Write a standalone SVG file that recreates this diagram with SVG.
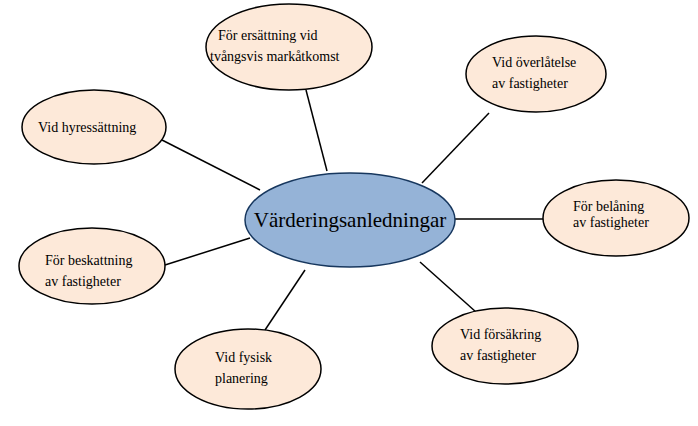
<svg xmlns="http://www.w3.org/2000/svg" width="698" height="426" viewBox="0 0 698 426">
<style>
.n{fill:#fde9d9;stroke:#000;stroke-width:1.5}
.c{fill:#95b3d7;stroke:#17375e;stroke-width:1.5}
text{font-family:"Liberation Serif",serif;font-size:14px;fill:#000}
.t{font-size:21px}
#edges line{stroke:#000;stroke-width:1.5}
</style>
<rect width="698" height="426" fill="#fff"/>
<g id="edges">
<line x1="327" y1="171" x2="306" y2="90"/>
<line x1="422" y1="183" x2="489" y2="113"/>
<line x1="455" y1="219" x2="543" y2="219"/>
<line x1="420" y1="262" x2="476" y2="312"/>
<line x1="305" y1="270" x2="265" y2="330"/>
<line x1="250" y1="238" x2="165" y2="265"/>
<line x1="260" y1="190" x2="162" y2="140"/>
</g>
<g id="center"><ellipse class="c" cx="350" cy="220" rx="105" ry="47"/><text class="t" x="350" y="227" text-anchor="middle">Värderingsanledningar</text></g>
<g id="n1"><ellipse class="n" cx="289" cy="47" rx="83" ry="43"/><text x="218" y="40">För ersättning vid</text><text x="210" y="61">tvångsvis markåtkomst</text></g>
<g id="n2"><ellipse class="n" cx="536" cy="74" rx="70" ry="38"/><text x="492" y="67">Vid överlåtelse</text><text x="492" y="88">av fastigheter</text></g>
<g id="n3"><ellipse class="n" cx="616" cy="218" rx="73" ry="38"/><text x="573" y="211">För belåning</text><text x="573" y="227">av fastigheter</text></g>
<g id="n4"><ellipse class="n" cx="505" cy="346" rx="73" ry="38"/><text x="460" y="339">Vid försäkring</text><text x="460" y="360">av fastigheter</text></g>
<g id="n5"><ellipse class="n" cx="248" cy="369" rx="73" ry="40"/><text x="215" y="362">Vid fysisk</text><text x="215" y="383">planering</text></g>
<g id="n6"><ellipse class="n" cx="92" cy="266" rx="73" ry="38"/><text x="45" y="265">För beskattning</text><text x="45" y="286">av fastigheter</text></g>
<g id="n7"><ellipse class="n" cx="94" cy="127" rx="72" ry="37"/><text x="38" y="132">Vid hyressättning</text></g>
</svg>
